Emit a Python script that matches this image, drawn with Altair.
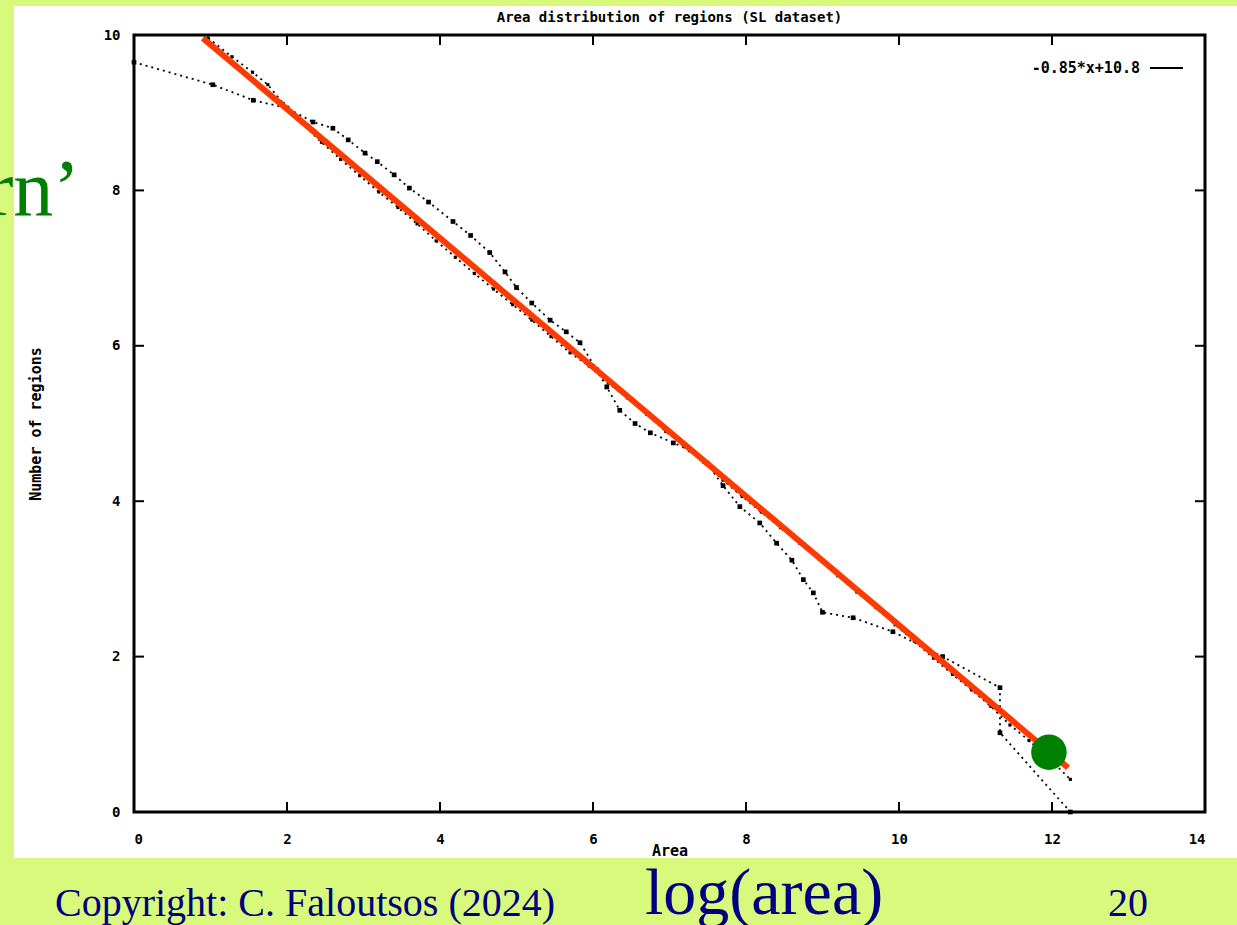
import altair as alt
import pandas as pd

# ---- data ----
A_x = [0.0, 1.03, 1.56, 2.0, 2.34, 2.6, 2.8, 3.02, 3.18, 3.4, 3.6, 3.85, 4.17, 4.4, 4.65, 4.85, 5.0, 5.2,
       5.44, 5.65, 5.83, 6.05, 6.18, 6.35, 6.55, 6.75, 7.05, 7.27, 7.49, 7.7, 7.92, 8.18, 8.4, 8.6, 8.75,
       8.88, 9.0, 9.4, 9.92, 10.57, 11.32, 11.32, 12.24]
A_y = [9.65, 9.36, 9.16, 9.06, 8.88, 8.8, 8.65, 8.48, 8.37, 8.2, 8.03, 7.85, 7.6, 7.42, 7.2, 6.95, 6.75, 6.55,
       6.33, 6.18, 6.04, 5.69, 5.47, 5.17, 5.0, 4.88, 4.75, 4.66, 4.49, 4.2, 3.93, 3.72, 3.46, 3.24, 2.99,
       2.82, 2.57, 2.5, 2.32, 2.0, 1.6, 1.02, 0.0]

B_x = [0.97, 1.28, 1.55, 1.75, 1.95, 2.2, 2.45, 2.7, 2.95, 3.2, 3.45, 3.7, 3.95, 4.2, 4.45, 4.7, 4.95, 5.2,
       5.45, 5.7, 5.95, 6.2, 6.45, 6.7, 6.95, 7.2, 7.45, 7.7, 7.95, 8.2, 8.45, 8.7, 8.95, 9.2, 9.45, 9.7,
       9.95, 10.2, 10.45, 10.7, 10.95, 11.2, 11.45, 11.7, 11.95, 12.24]
B_y = [9.96, 9.72, 9.52, 9.36, 9.12, 8.86, 8.62, 8.40, 8.19, 7.98, 7.78, 7.57, 7.35, 7.14, 6.93, 6.73, 6.53,
       6.33, 6.12, 5.91, 5.74, 5.52, 5.33, 5.12, 4.90, 4.70, 4.50, 4.27, 4.06, 3.86, 3.66, 3.46, 3.26, 3.04,
       2.83, 2.63, 2.41, 2.20, 1.98, 1.77, 1.57, 1.36, 1.12, 0.92, 0.70, 0.42]

fit_x = [0.90, 12.21]
fit_y = [9.96, 0.57]
fit_label = "-0.85*x+10.8"

dot_x = [11.96]
dot_y = [0.77]

x_ticks = [0, 2, 4, 6, 8, 10, 12, 14]
y_ticks = [0, 2, 4, 6, 8, 10]

title_text = "Area distribution of regions (SL dataset)"
x_title = "Area"
y_title = "Number of regions"

slide_left_text = "rn\u2019"
copyright_text = "Copyright: C. Faloutsos (2024)"
bottom_label = "log(area)"
page_number = "20"

# ---- layout ----
W, H = 1071, 777
GP_FONT = "DejaVu Sans Mono"
SERIF = "Liberation Serif"
NAVY = "#000080"

xs = alt.Scale(domain=[0, 14], nice=False, zero=False)
ys = alt.Scale(domain=[0, 10], nice=False, zero=False)

xaxis = alt.Axis(values=x_ticks, title=x_title, grid=False, ticks=False, domain=False,
                 labelPadding=20, labelFont=GP_FONT, labelFontSize=14, labelFontWeight="bold",
                 labelColor="black", titleFont=GP_FONT, titleFontSize=15, titleFontWeight="bold",
                 titleColor="black", titleX=535.5, titleY=38, titleBaseline="middle",
                 titleAlign="center", zindex=1)
yaxis = alt.Axis(values=y_ticks, title=y_title, grid=False, ticks=False, domain=False,
                 labelPadding=14, labelFont=GP_FONT, labelFontSize=14, labelFontWeight="bold",
                 labelColor="black", titleFont=GP_FONT, titleFontSize=15, titleFontWeight="bold",
                 titleColor="black", titleX=-99, titleY=388.5, titleAngle=270,
                 titleAlign="center", titleBaseline="middle", zindex=1)

X = alt.X("x:Q", scale=xs, axis=xaxis)
Y = alt.Y("y:Q", scale=ys, axis=yaxis)

one = pd.DataFrame({"k": [0]})

white_bg = alt.Chart(one).mark_rect(fill="white", stroke=None).encode(
    x=alt.value(-120), x2=alt.value(1103), y=alt.value(-29), y2=alt.value(823))

dfA = pd.DataFrame({"x": A_x, "y": A_y, "i": range(len(A_x))})
dfB = pd.DataFrame({"x": B_x, "y": B_y, "i": range(len(B_x))})

lineA = alt.Chart(dfA).mark_line(color="black", strokeWidth=1.8, strokeDash=[2, 4]).encode(
    x=X, y=Y, order="i:Q")
ptsA = alt.Chart(dfA).mark_point(shape="square", filled=True, color="black", size=22, opacity=1).encode(
    x=X, y=Y)
lineB = alt.Chart(dfB).mark_line(color="black", strokeWidth=1.8, strokeDash=[2, 4]).encode(
    x=X, y=Y, order="i:Q")
ptsB = alt.Chart(dfB).mark_point(shape="square", filled=True, color="black", size=10, opacity=1).encode(
    x=X, y=Y)

dfFit = pd.DataFrame({"x": fit_x, "y": fit_y})
red = alt.Chart(dfFit).mark_line(color="#ff3a00", strokeWidth=6).encode(x=X, y=Y)

dfDot = pd.DataFrame({"x": dot_x, "y": dot_y})
green = alt.Chart(dfDot).mark_point(shape="circle", filled=True, color="#008000", size=1260,
                                    opacity=1).encode(x=X, y=Y)

dfXT = pd.DataFrame({"x": x_ticks})
dfYT = pd.DataFrame({"y": y_ticks})
tick_style = dict(color="black", strokeWidth=2)
xt_bottom = alt.Chart(dfXT).mark_rule(**tick_style).encode(x=X, y=alt.value(H), y2=alt.value(H - 10))
xt_top = alt.Chart(dfXT).mark_rule(**tick_style).encode(x=X, y=alt.value(0), y2=alt.value(10))
yt_left = alt.Chart(dfYT).mark_rule(**tick_style).encode(y=Y, x=alt.value(0), x2=alt.value(10))
yt_right = alt.Chart(dfYT).mark_rule(**tick_style).encode(y=Y, x=alt.value(W - 10), x2=alt.value(W))

frame = alt.Chart(one).mark_rect(fill="transparent", stroke="black", strokeWidth=3).encode(
    x=alt.value(0), x2=alt.value(W), y=alt.value(0), y2=alt.value(H))

title_mark = alt.Chart(pd.DataFrame({"t": [title_text]})).mark_text(
    align="center", baseline="middle", font=GP_FONT, fontSize=14, fontWeight="bold", color="black"
).encode(text="t:N", x=alt.value(535.5), y=alt.value(-17))

legend_text = alt.Chart(pd.DataFrame({"t": [fit_label]})).mark_text(
    align="right", baseline="middle", font=GP_FONT, fontSize=15, fontWeight="bold", color="black"
).encode(text="t:N", x=alt.value(1006), y=alt.value(33))
legend_line = alt.Chart(one).mark_rule(color="black", strokeWidth=2).encode(
    x=alt.value(1016), x2=alt.value(1049), y=alt.value(33))

def slide_text(txt, x, y, size, color, align="left"):
    return alt.Chart(pd.DataFrame({"t": [txt]})).mark_text(
        align=align, baseline="alphabetic", font=SERIF, fontSize=size, color=color
    ).encode(text="t:N", x=alt.value(x), y=alt.value(y))

t_rn = slide_text(slide_left_text, -54, 180, 80, "#008000", align="right")
t_copy = slide_text(copyright_text, -79, 881, 40, NAVY)
t_log = slide_text(bottom_label, 511, 879, 66, NAVY)
t_page = slide_text(page_number, 974, 881, 40, NAVY)

chart = alt.layer(
    white_bg, lineA, lineB, ptsA, ptsB, red, green,
    xt_bottom, xt_top, yt_left, yt_right, frame, title_mark, legend_text, legend_line,
    t_rn, t_copy, t_log, t_page
).properties(
    width=W, height=H,
    autosize=alt.AutoSizeParams(type="none"),
    padding={"left": 134, "top": 35, "right": 32, "bottom": 113},
).configure(background="#d8f97b").configure_view(stroke=None)

chart.save("out.html", embed_options={"renderer": "svg", "actions": False})
